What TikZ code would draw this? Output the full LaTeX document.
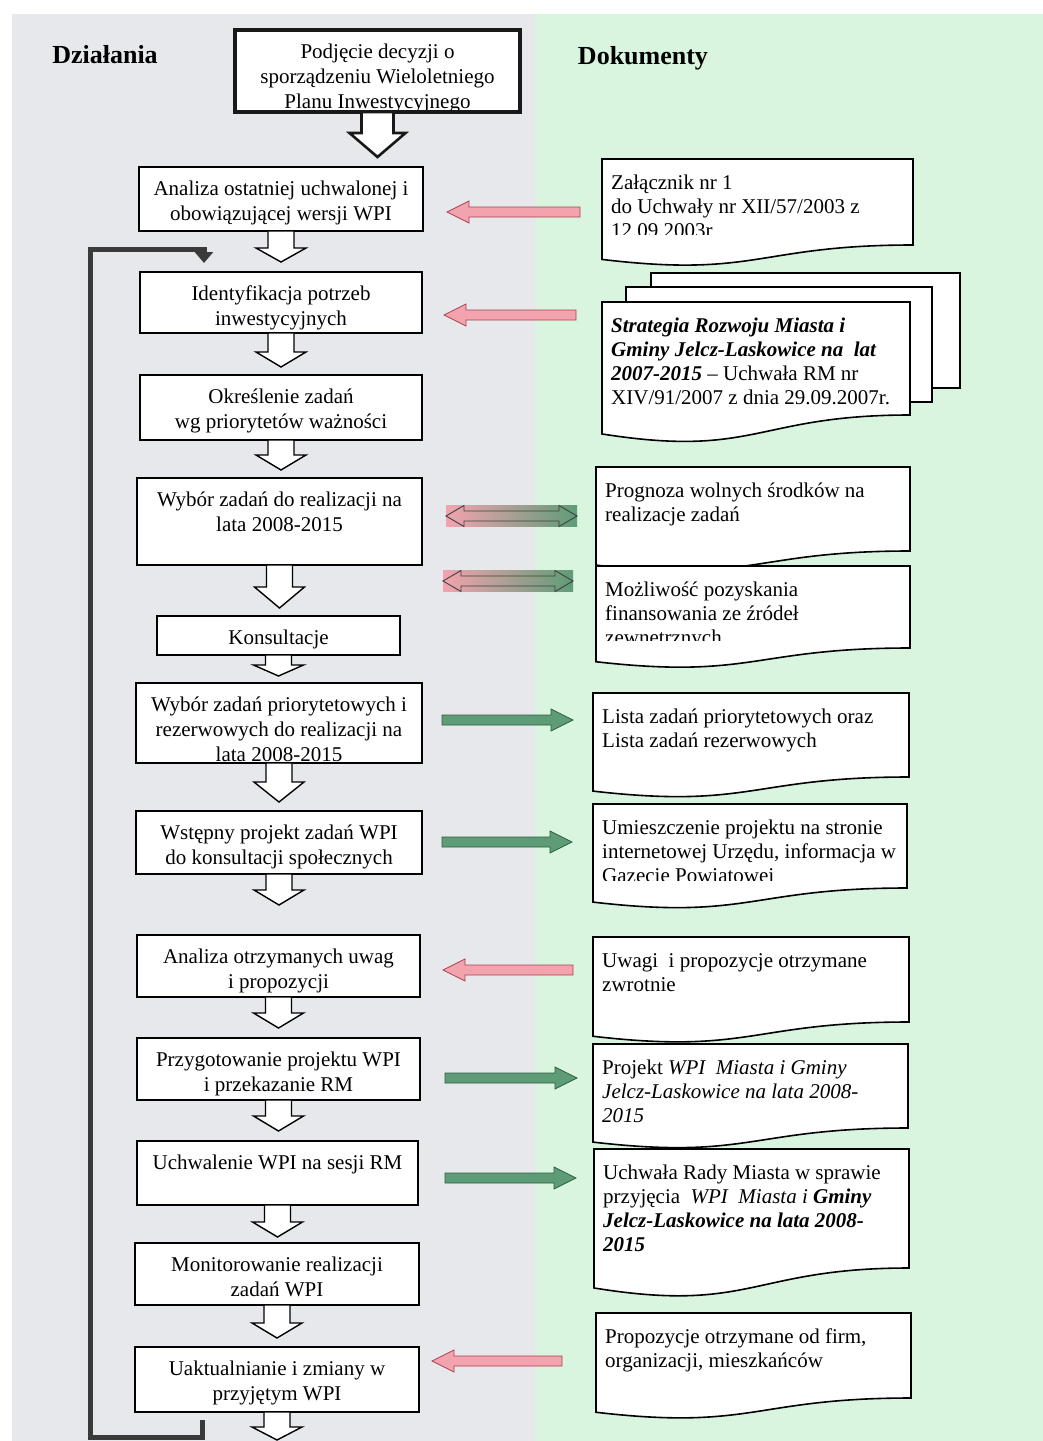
\documentclass[tikz,border=0pt]{standalone}
\usepackage{fontspec}
\setmainfont{Liberation Serif}
\usetikzlibrary{arrows.meta,calc}
\definecolor{bggrey}{HTML}{E7E8EC}
\definecolor{bggreen}{HTML}{DAF5DF}
\definecolor{pinkf}{HTML}{F3A3AE}
\definecolor{pinkd}{HTML}{A84250}
\definecolor{greenf}{HTML}{5E9C77}
\definecolor{greend}{HTML}{2E5E40}
\definecolor{loopc}{HTML}{3A3A3A}
\tikzset{
  actbox/.style={draw=black, line width=1.6pt, fill=white, inner sep=0pt, outer sep=0pt},
  acttext/.style={font=\fontsize{21}{25}\selectfont, align=center, inner sep=0pt},
  doctext/.style={font=\fontsize{21}{24}\selectfont, align=left, inner sep=0pt},
  docline/.style={draw=black, line width=1.6pt, fill=white, line join=miter},
  hollow/.style={draw=black, line width=1.4pt, fill=white, line join=miter},
  pinkarr/.style={fill=pinkf, draw=pinkd, line width=0.8pt},
  greenarr/.style={fill=greenf, draw=greend, line width=0.8pt},
  dblarr/.style={draw=black!75, line width=0.9pt},
  heading/.style={font=\fontsize{26}{30}\selectfont\bfseries, inner sep=0pt},
  loopline/.style={draw=loopc, line width=5pt, line join=miter},
}
% action box: name, x0, y0, x1, y1, text
\newcommand\ActBox[6]{%
  \node[actbox, anchor=north west, minimum width={(#4-#2)*1pt}, minimum height={(#5-#3)*1pt}] (#1) at (#2,#3) {};
  \begin{scope}
    \clip (#2+1,#3+1) rectangle (#4-1,#5-1);
    \node[acttext, anchor=north] (#1t) at ({(#2+#4)/2},#3+10.5) {\strut#6};
  \end{scope}}
% document shape: name, x0, ytop, x1, yright-bottom, text, text clip y
\newcommand\DocBox[7]{%
  \pgfmathsetmacro\dH{(#5-#3)/0.8}%
  \pgfmathsetmacro\dL{#3+0.934*\dH}%
  \pgfmathsetmacro\dC{#3+1.107*\dH}%
  \pgfmathsetmacro\dM{(#2+#4)/2}%
  \draw[docline] (#2,#3) -- (#4,#3) -- (#4,#5) .. controls (\dM,#5) and (\dM,\dC) .. (#2,\dL) -- cycle;
  \node[inner sep=0pt, outer sep=0pt, anchor=north west, minimum width={(#4-#2)*1pt}, minimum height={(#5-#3)*1pt}] (#1) at (#2,#3) {};
  \begin{scope}
    \clip (#2,#3) rectangle (#4,#7);
    \node[doctext, anchor=north west] (#1t) at (#2+9,#3+13) {\strut#6};
  \end{scope}}
% left-pointing block arrow: style, box, doc, y, gapL, gapR
\newcommand\ArrL[6]{%
  \path[#1] let \p1=(#2.east), \p2=(#3.west) in
   (\x1+#5pt,-#4pt) -- (\x1+#5pt+22pt,-#4pt+11pt) -- (\x1+#5pt+22pt,-#4pt+5pt)
   -- (\x2-#6pt,-#4pt+5pt) -- (\x2-#6pt,-#4pt-5pt) -- (\x1+#5pt+22pt,-#4pt-5pt)
   -- (\x1+#5pt+22pt,-#4pt-11pt) -- cycle;}
% right-pointing block arrow
\newcommand\ArrR[6]{%
  \path[#1] let \p1=(#2.east), \p2=(#3.west) in
   (\x2-#6pt,-#4pt) -- (\x2-#6pt-22pt,-#4pt+11pt) -- (\x2-#6pt-22pt,-#4pt+5pt)
   -- (\x1+#5pt,-#4pt+5pt) -- (\x1+#5pt,-#4pt-5pt) -- (\x2-#6pt-22pt,-#4pt-5pt)
   -- (\x2-#6pt-22pt,-#4pt-11pt) -- cycle;}
% double block arrow: box, doc, y, gapL, gapR
\newcommand\ArrD[5]{%
  \path[left color=pinkf, middle color=pinkf!55!greenf, right color=greenf] let \p1=(#1.east), \p2=(#2.west) in
   (\x1+#4pt,-#3pt+10.5pt) rectangle (\x2-#5pt,-#3pt-10.5pt);
  \path[dblarr] let \p1=(#1.east), \p2=(#2.west) in
   (\x1+#4pt,-#3pt) -- (\x1+#4pt+18pt,-#3pt+10.5pt) -- (\x1+#4pt+18pt,-#3pt+5pt)
   -- (\x2-#5pt-18pt,-#3pt+5pt) -- (\x2-#5pt-18pt,-#3pt+10.5pt) -- (\x2-#5pt,-#3pt)
   -- (\x2-#5pt-18pt,-#3pt-10.5pt) -- (\x2-#5pt-18pt,-#3pt-5pt)
   -- (\x1+#4pt+18pt,-#3pt-5pt) -- (\x1+#4pt+18pt,-#3pt-10.5pt) -- cycle;}
% hollow down arrow below a box: node, shaft length, head length
\newcommand\DArr[3]{%
  \draw[hollow] ([xshift=-13pt]#1.south) -- ++(0,#2) -- ++(-12,0) -- ++(25,#3)
    -- ++(25,-#3) -- ++(-12,0) -- ++(0,-#2) -- cycle;}

\begin{document}
\begin{tikzpicture}[x=1pt,y=-1pt]
\useasboundingbox (0,0) rectangle (1043,1441);
\fill[white] (0,0) rectangle (1043,1441);
\fill[bggrey] (12,14) rectangle (535,1441);
\fill[bggreen] (535,14) rectangle (1043,1441);

\node[heading] (hA) at (105,55) {Działania};
\node[heading] (hD) at (643,58) {Dokumenty};

% ---- action column
\ActBox{T}{235}{30}{520}{112}{Podjęcie decyzji o\\sporządzeniu Wieloletniego\\Planu Inwestycyjnego}
\draw[line width=3.6pt, draw=black!90] (T.south west) rectangle (T.north east);
\ActBox{B1}{139}{167}{423}{231}{Analiza ostatniej uchwalonej i\\obowiązującej wersji WPI}
\ActBox{B2}{140}{272}{422}{333}{Identyfikacja potrzeb\\inwestycyjnych}
\ActBox{B3}{140}{375}{422}{440}{Określenie zadań\\wg priorytetów ważności}
\ActBox{B4}{137}{478}{422}{565}{Wybór zadań do realizacji na\\lata 2008-2015}
\ActBox{B5}{157}{616}{400}{655}{Konsultacje}
\ActBox{B6}{136}{683}{422}{763}{Wybór zadań priorytetowych i\\rezerwowych do realizacji na\\lata 2008-2015}
\ActBox{B7}{136}{811}{422}{874}{Wstępny projekt zadań WPI\\do konsultacji społecznych}
\ActBox{B8}{137}{935}{420}{997}{Analiza otrzymanych uwag\\i propozycji}
\ActBox{B9}{137}{1038}{420}{1100}{Przygotowanie projektu WPI\\i przekazanie RM}
\ActBox{B10}{137}{1141}{418}{1205}{Uchwalenie WPI na sesji RM}
\ActBox{B11}{135}{1243}{419}{1305}{Monitorowanie realizacji\\zadań WPI}
\ActBox{B12}{135}{1347}{419}{1412}{Uaktualnianie i zmiany w\\przyjętym WPI}

% hollow flow arrows
\draw[hollow, line width=2.6pt, draw=black!90] ([xshift=-16pt]T.south) -- ++(0,21) -- ++(-12,0)
  -- ++(28,24) -- ++(28,-24) -- ++(-12,0) -- ++(0,-21) -- cycle;
\DArr{B1}{17}{14}
\DArr{B2}{19}{15}
\DArr{B3}{15}{15}
\DArr{B4}{22}{21}
\DArr{B5}{10}{11}
\DArr{B6}{19}{20}
\DArr{B7}{16}{15}
\DArr{B8}{16}{15}
\DArr{B9}{16}{15}
\DArr{B10}{17}{15}
\DArr{B11}{18}{15}
\DArr{B12}{15}{13}

% feedback loop
\coordinate (ls) at ([xshift=-75pt,yshift=-8pt]B12.south);
\coordinate (le) at ([xshift=-77pt,yshift=9pt]B2.north);
\coordinate (lc) at (90,249);
\draw[loopline, -{Triangle[length=11pt,width=18pt]}] (ls) -- ++(0,17) -- (90,1437) -- (lc) -- (le |- lc) -- (le);

% ---- document column
\draw[docline] (651,273) rectangle (960,388);
\draw[docline] (626,287) rectangle (932,402);
\DocBox{D1}{602}{159}{913}{245}{Załącznik nr 1\\do Uchwały nr XII/57/2003 z\\12.09.2003r}{234}
\DocBox{D2}{602}{302}{910}{415}{\textbf{\textit{Strategia Rozwoju Miasta i}}\\\textbf{\textit{Gminy Jelcz-Laskowice na\ \ lat}}\\\textbf{\textit{2007-2015}} – Uchwała RM nr\\XIV/91/2007 z dnia 29.09.2007r.}{410}
\DocBox{D3}{596}{467}{910}{551}{Prognoza wolnych środków na\\realizacje zadań}{545}
\DocBox{D4}{596}{566}{910}{648}{Możliwość pozyskania\\finansowania ze źródeł\\zewnetrznych}{640}
\DocBox{D5}{593}{693}{909}{777}{Lista zadań priorytetowych oraz\\Lista zadań rezerwowych}{770}
\DocBox{D6}{593}{804}{907}{888}{Umieszczenie projektu na stronie\\internetowej Urzędu, informacja w\\Gazecie Powiatowej}{880}
\DocBox{D7}{593}{937}{909}{1022}{Uwagi\ \ i propozycje otrzymane\\zwrotnie}{1015}
\DocBox{D8}{593}{1044}{908}{1128}{Projekt \textit{WPI\ \ Miasta i Gminy}\\\textit{Jelcz-Laskowice na lata 2008-}\\\textit{2015}}{1127}
\DocBox{D9}{594}{1149}{909}{1268}{Uchwała Rady Miasta w sprawie\\przyjęcia\ \ \textit{WPI\ \ Miasta i} \textbf{\textit{Gminy}}\\\textbf{\textit{Jelcz-Laskowice na lata 2008-}}\\\textbf{\textit{2015}}}{1262}
\DocBox{D10}{596}{1313}{911}{1398}{Propozycje otrzymane od firm,\\organizacji, mieszkańców}{1392}

% ---- horizontal arrows
\ArrL{pinkarr}{B1}{D1}{212}{24}{22}
\ArrL{pinkarr}{B2}{D2}{315}{22}{26}
\ArrD{B4}{D3}{516}{24}{19}
\ArrD{B4}{D4}{581}{21}{23}
\ArrR{greenarr}{B6}{D5}{720}{20}{20}
\ArrR{greenarr}{B7}{D6}{842}{20}{21}
\ArrL{pinkarr}{B8}{D7}{970}{23}{20}
\ArrR{greenarr}{B9}{D8}{1078}{25}{16}
\ArrR{greenarr}{B10}{D9}{1178}{27}{18}
\ArrL{pinkarr}{B12}{D10}{1361}{13}{34}
\end{tikzpicture}
\end{document}
